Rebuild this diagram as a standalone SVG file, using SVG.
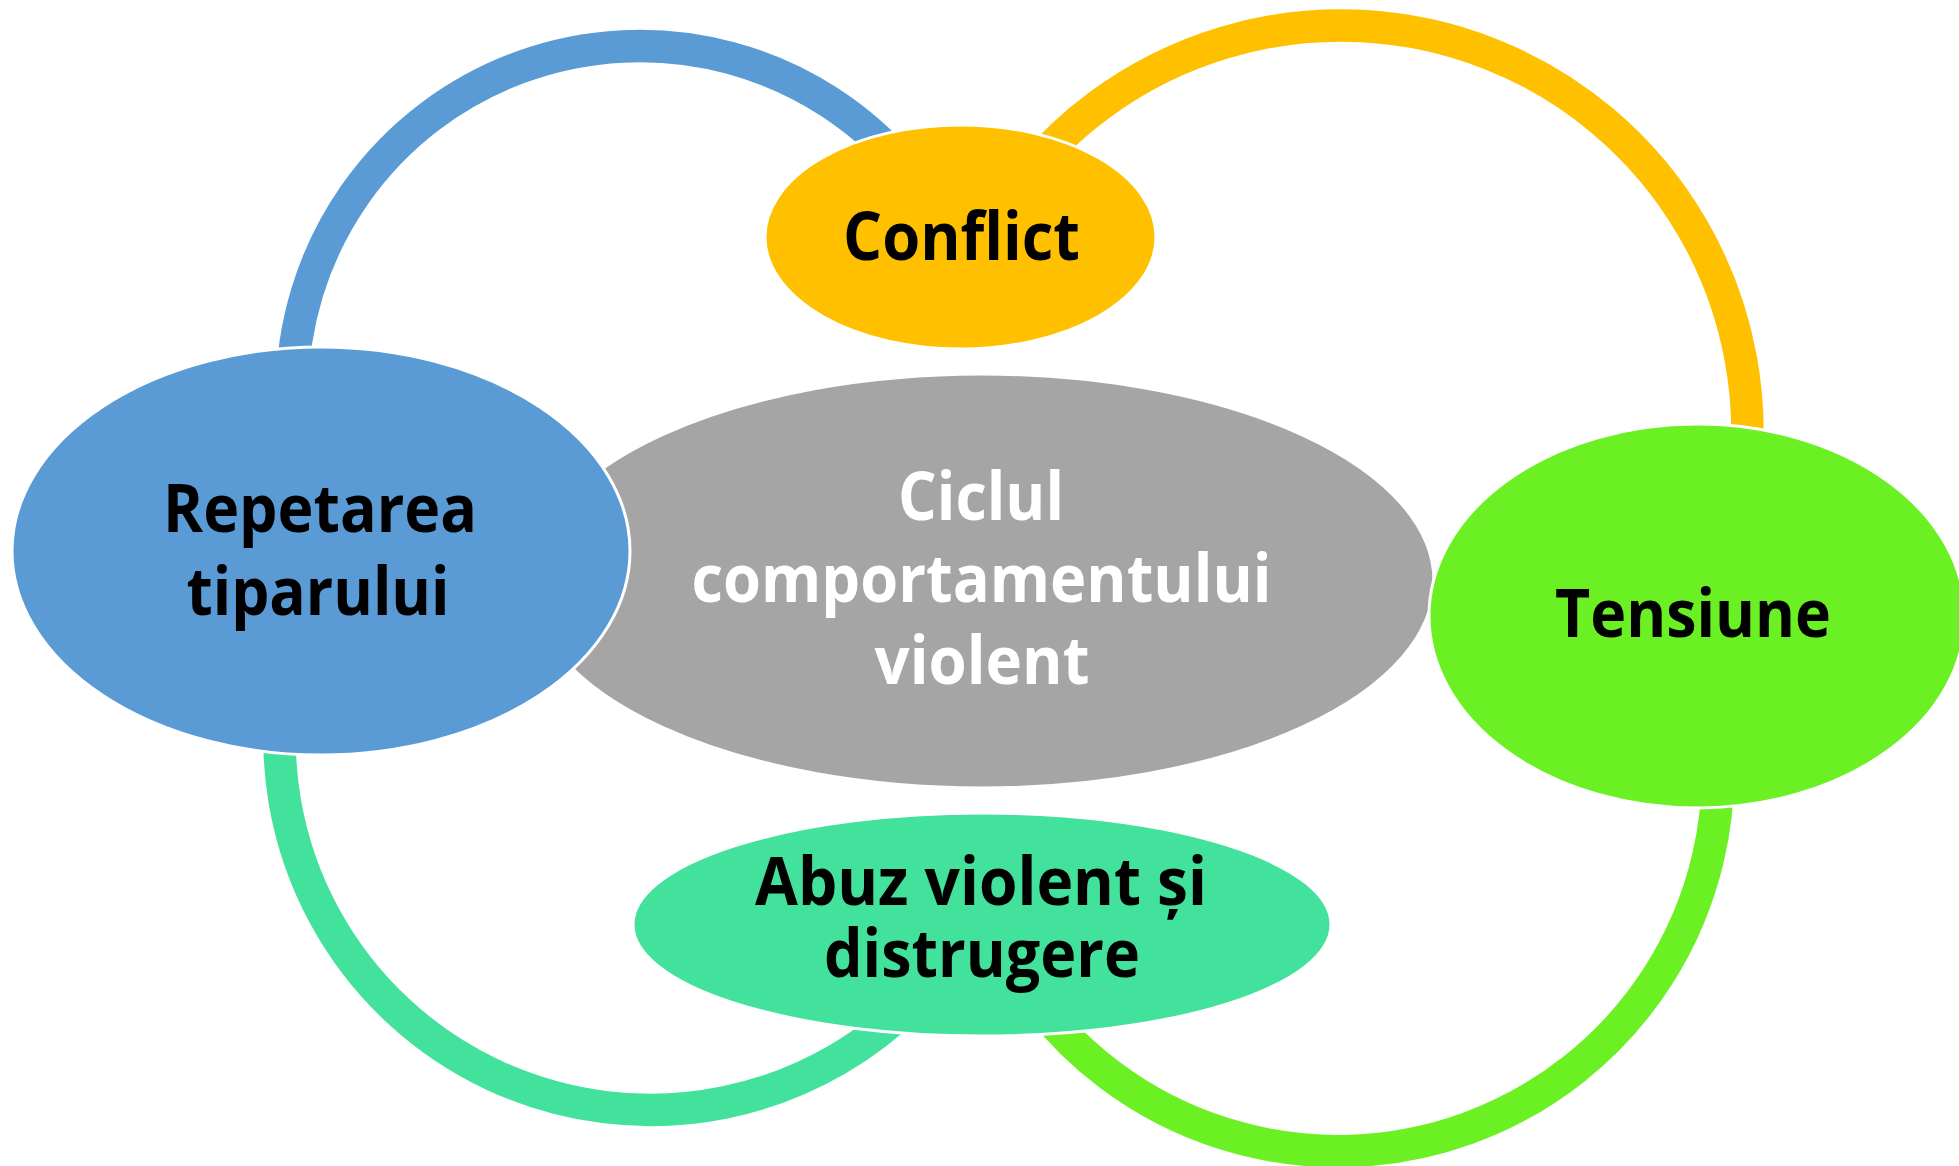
<svg xmlns="http://www.w3.org/2000/svg" width="1959" height="1166" viewBox="0 0 1959 1166">
<style>
.arc{fill:none;stroke-width:32.5;stroke-linecap:butt}
.node{stroke:#FFFFFF;stroke-width:3}
.lbl{font-family:"Open Sans","Noto Sans","DejaVu Sans",sans-serif;font-weight:bold;font-size:66px;text-anchor:middle}
.dark{fill:#000000}
.light{fill:#FFFFFF}
</style>
<rect width="1959" height="1166" fill="#FFFFFF"/>
<g id="connectors">
<path class="arc" stroke="#5B9BD5" d="M 292 394 A 348 348 0 0 1 906.6 170.3"/>
<path class="arc" stroke="#FFC000" d="M 1008 198.8 A 406.5 406.5 0 0 1 1743.5 488.6"/>
<path class="arc" stroke="#6AF023" d="M 1716.6 737.9 A 380 380 0 0 1 1026.7 989"/>
<path class="arc" stroke="#42E19C" d="M 926.2 987.2 A 371 371 0 0 1 283.1 687.4"/>
</g>
<g id="center">
<ellipse class="node" cx="982" cy="581" rx="452" ry="207" fill="#A5A5A5"/>
<text class="lbl light" x="981" y="520" textLength="166" lengthAdjust="spacingAndGlyphs">Ciclul</text>
<text class="lbl light" x="981.5" y="602" textLength="580" lengthAdjust="spacingAndGlyphs">comportamentului</text>
<text class="lbl light" x="982" y="684" textLength="215" lengthAdjust="spacingAndGlyphs">violent</text>
</g>
<g id="conflict">
<ellipse class="node" cx="960.5" cy="237" rx="195.5" ry="112" fill="#FFC000"/>
<text class="lbl dark" x="961.5" y="260" textLength="237" lengthAdjust="spacingAndGlyphs">Conflict</text>
</g>
<g id="tensiune">
<ellipse class="node" cx="1697" cy="616" rx="268" ry="192" fill="#6AF023"/>
<text class="lbl dark" x="1693" y="637" textLength="276" lengthAdjust="spacingAndGlyphs">Tensiune</text>
</g>
<g id="abuz">
<ellipse class="node" cx="982" cy="924.5" rx="349" ry="111.5" fill="#42E19C"/>
<text class="lbl dark" x="981" y="905" textLength="452" lengthAdjust="spacingAndGlyphs">Abuz violent și</text>
<text class="lbl dark" x="982" y="977" textLength="316" lengthAdjust="spacingAndGlyphs">distrugere</text>
</g>
<g id="repetarea">
<ellipse class="node" cx="321" cy="551" rx="309" ry="204" fill="#5B9BD5"/>
<text class="lbl dark" x="320" y="532" textLength="314" lengthAdjust="spacingAndGlyphs">Repetarea</text>
<text class="lbl dark" x="318" y="615" textLength="263" lengthAdjust="spacingAndGlyphs">tiparului</text>
</g>
</svg>
